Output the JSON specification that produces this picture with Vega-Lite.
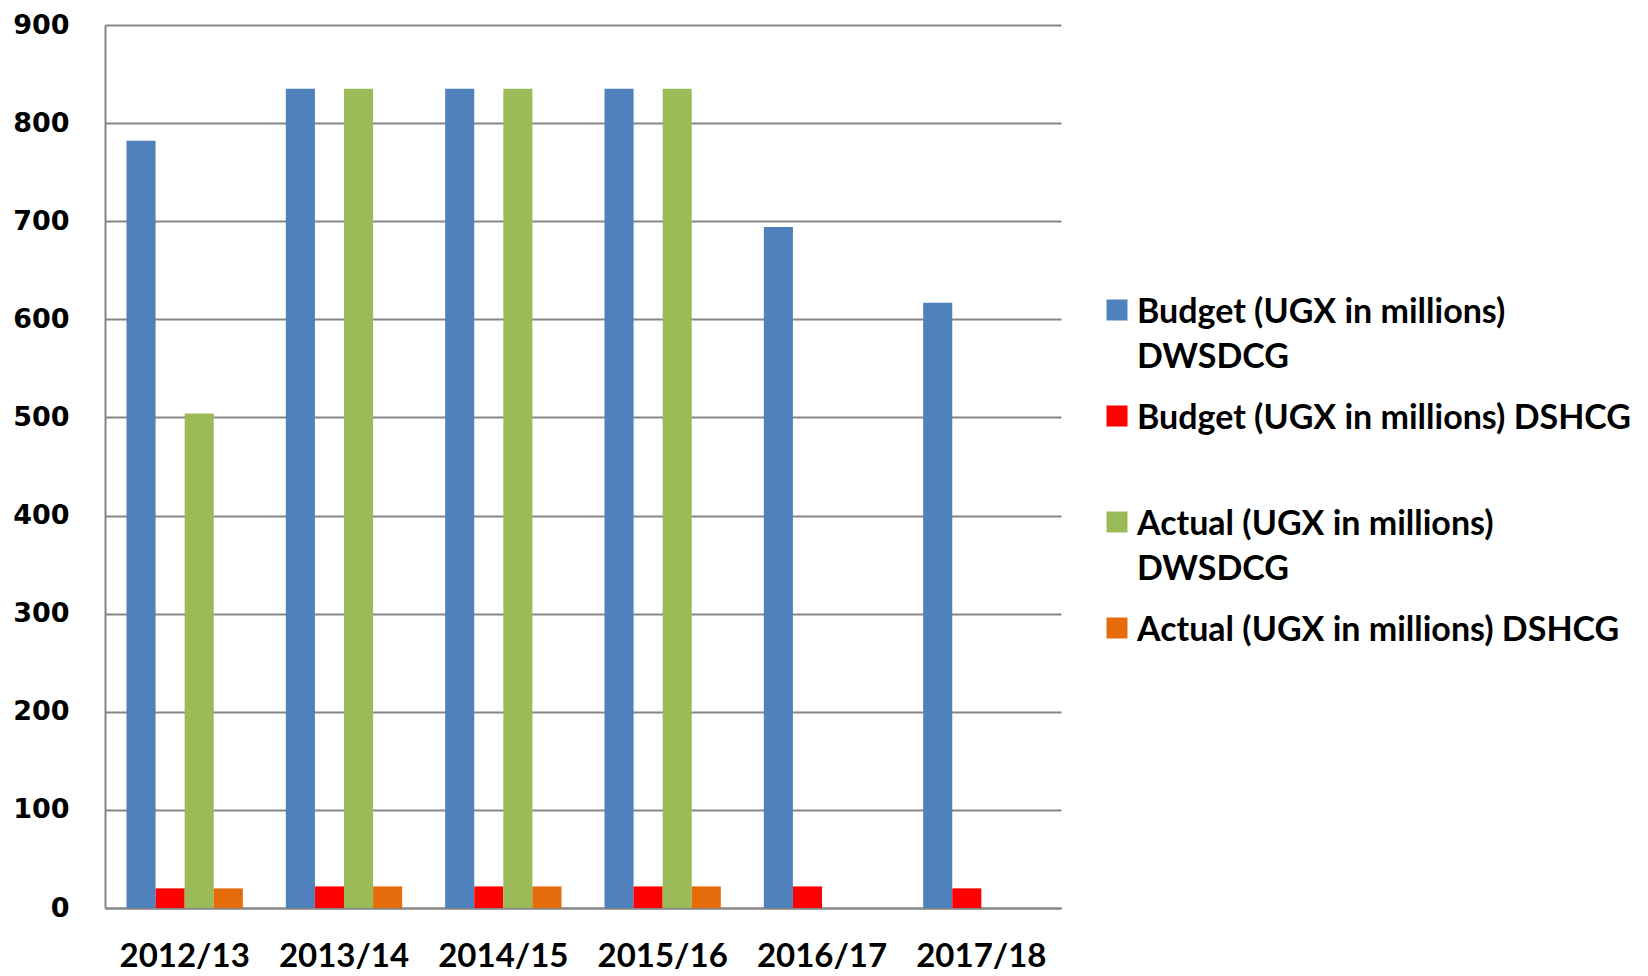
{
  "$schema": "https://vega.github.io/schema/vega-lite/v6.json",
  "width": 956,
  "height": 883,
  "autosize": {"type": "none"},
  "padding": {"left": 105, "top": 25, "right": 587, "bottom": 68},
  "background": "white",
  "data": {"values": [
    {"year": "2012/13", "series": "Budget (UGX in millions) DWSDCG", "value": 782},
    {"year": "2012/13", "series": "Budget (UGX in millions) DSHCG", "value": 20},
    {"year": "2012/13", "series": "Actual (UGX in millions) DWSDCG", "value": 504},
    {"year": "2012/13", "series": "Actual (UGX in millions) DSHCG", "value": 20},
    {"year": "2013/14", "series": "Budget (UGX in millions) DWSDCG", "value": 835},
    {"year": "2013/14", "series": "Budget (UGX in millions) DSHCG", "value": 22},
    {"year": "2013/14", "series": "Actual (UGX in millions) DWSDCG", "value": 835},
    {"year": "2013/14", "series": "Actual (UGX in millions) DSHCG", "value": 22},
    {"year": "2014/15", "series": "Budget (UGX in millions) DWSDCG", "value": 835},
    {"year": "2014/15", "series": "Budget (UGX in millions) DSHCG", "value": 22},
    {"year": "2014/15", "series": "Actual (UGX in millions) DWSDCG", "value": 835},
    {"year": "2014/15", "series": "Actual (UGX in millions) DSHCG", "value": 22},
    {"year": "2015/16", "series": "Budget (UGX in millions) DWSDCG", "value": 835},
    {"year": "2015/16", "series": "Budget (UGX in millions) DSHCG", "value": 22},
    {"year": "2015/16", "series": "Actual (UGX in millions) DWSDCG", "value": 835},
    {"year": "2015/16", "series": "Actual (UGX in millions) DSHCG", "value": 22},
    {"year": "2016/17", "series": "Budget (UGX in millions) DWSDCG", "value": 694},
    {"year": "2016/17", "series": "Budget (UGX in millions) DSHCG", "value": 22},
    {"year": "2017/18", "series": "Budget (UGX in millions) DWSDCG", "value": 617},
    {"year": "2017/18", "series": "Budget (UGX in millions) DSHCG", "value": 20}
  ]},
  "mark": {"type": "bar"},
  "encoding": {
    "x": {
      "field": "year", "type": "nominal", "sort": null,
      "scale": {"paddingInner": 0.27, "paddingOuter": 0.135},
      "axis": {
        "title": null, "labelAngle": 0, "ticks": false, "grid": false,
        "domain": true, "domainColor": "#868686", "domainWidth": 2,
        "labelFont": "Lato", "labelFontWeight": "bold", "labelFontSize": 33,
        "labelColor": "#000000", "labelPadding": 32
      }
    },
    "xOffset": {
      "field": "series", "type": "nominal",
      "sort": ["Budget (UGX in millions) DWSDCG", "Budget (UGX in millions) DSHCG", "Actual (UGX in millions) DWSDCG", "Actual (UGX in millions) DSHCG"],
      "scale": {"paddingInner": 0, "paddingOuter": 0}
    },
    "y": {
      "field": "value", "type": "quantitative",
      "scale": {"domain": [0, 900], "nice": false},
      "axis": {
        "title": null, "values": [0, 100, 200, 300, 400, 500, 600, 700, 800, 900],
        "ticks": false, "grid": true, "gridColor": "#868686", "gridWidth": 2,
        "domain": true, "domainColor": "#868686", "domainWidth": 2,
        "labelFont": "DejaVu Sans", "labelFontWeight": "bold", "labelFontSize": 27,
        "labelColor": "#000000", "labelPadding": 36
      }
    },
    "color": {
      "field": "series", "type": "nominal",
      "sort": ["Budget (UGX in millions) DWSDCG", "Budget (UGX in millions) DSHCG", "Actual (UGX in millions) DWSDCG", "Actual (UGX in millions) DSHCG"],
      "scale": {
        "domain": ["Budget (UGX in millions) DWSDCG", "Budget (UGX in millions) DSHCG", "Actual (UGX in millions) DWSDCG", "Actual (UGX in millions) DSHCG"],
        "range": ["#4F81BD", "#FF0000", "#9BBB59", "#E46C0A"]
      },
      "legend": {
        "title": null, "orient": "none", "legendX": 995, "legendY": 268,
        "padding": 0, "symbolType": "square", "symbolSize": 441,
        "symbolStrokeWidth": 0, "symbolOpacity": 1,
        "labelFont": "Lato", "labelFontWeight": "bold", "labelFontSize": 34,
        "labelColor": "#000000", "labelLimit": 800, "labelOffset": 3,
        "labelBaseline": "top", "rowPadding": 24,
        "labelExpr": "indexof(datum.label, 'DWSDCG') > 0 ? [replace(datum.label, ' DWSDCG', ''), 'DWSDCG'] : [datum.label, '']",
        "encoding": {"labels": {"lineHeight": {"value": 45}, "dy": {"value": -14}}}
      }
    }
  },
  "config": {"view": {"stroke": null}}
}
